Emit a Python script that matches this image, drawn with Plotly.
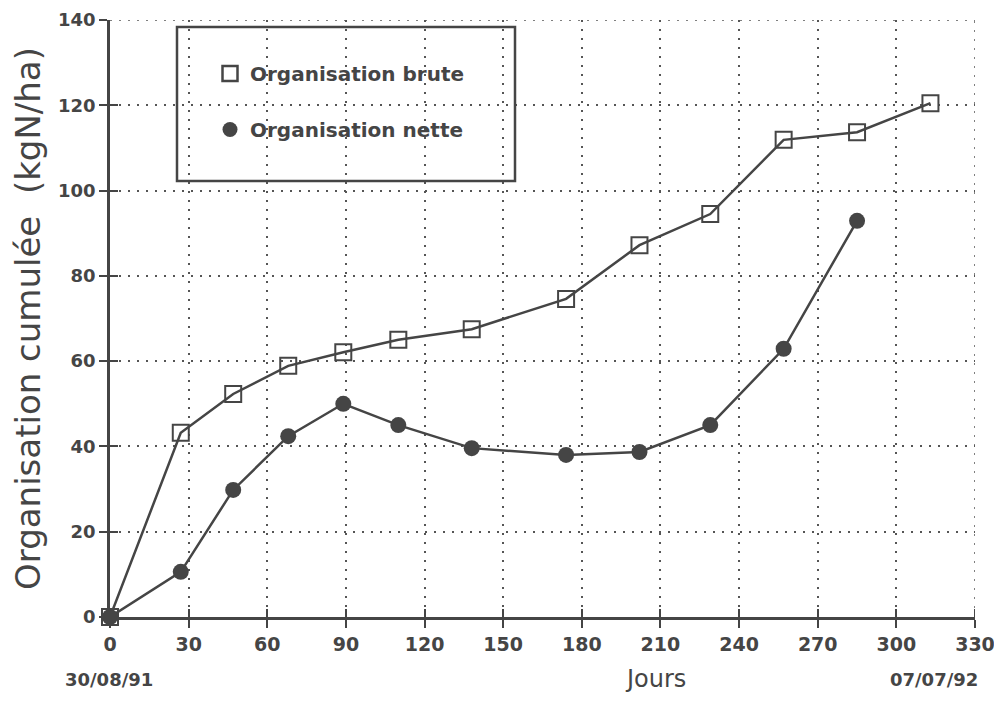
import plotly.graph_objects as go

days_brute = [0, 27, 47, 68, 89, 110, 138, 174, 202, 229, 257, 285, 313]
org_brute = [0, 43.2, 52.3, 58.9, 62.1, 65.0, 67.5, 74.6, 87.2, 94.5, 111.9, 113.7, 120.5]

days_nette = [0, 27, 47, 68, 89, 110, 138, 174, 202, 229, 257, 285]
org_nette = [0, 10.6, 29.8, 42.4, 50.0, 45.0, 39.6, 38.0, 38.7, 45.0, 62.9, 92.9]

x_ticks = list(range(0, 331, 30))
y_ticks = list(range(0, 141, 20))
x_max, y_max = 330, 140

ink = "#454545"
font_family = "DejaVu Sans"

# page coordinates of the plot area (page has an 8px body margin)
OFF = 8
L, R, T, B = 110, 975, 20, 617
W, H = R - L, B - T
FIG_W, FIG_H = 1002 - 2 * OFF, 704 - 2 * OFF

fig = go.Figure()
fig.add_trace(go.Scatter(
    x=days_brute, y=org_brute, mode="lines+markers", name="Organisation brute",
    line=dict(color=ink, width=2.5),
    marker=dict(symbol="square-open", size=16, color=ink, line=dict(width=2, color=ink)),
    cliponaxis=False, showlegend=False,
))
fig.add_trace(go.Scatter(
    x=days_nette, y=org_nette, mode="lines+markers", name="Organisation nette",
    line=dict(color=ink, width=2.5),
    marker=dict(symbol="circle", size=16, color=ink),
    cliponaxis=False, showlegend=False,
))
# legend entries (marker only, as in the original)
fig.add_trace(go.Scatter(
    x=[None], y=[None], mode="markers", name="Organisation brute",
    marker=dict(symbol="square-open", size=15, color=ink, line=dict(width=2.5, color=ink)),
    legendgroup="a",
))
fig.add_trace(go.Scatter(
    x=[None], y=[None], mode="markers", name="Organisation nette",
    marker=dict(symbol="circle", size=15, color=ink),
    legendgroup="b",
))
# inner tick marks
fig.add_trace(go.Scatter(x=[None], y=[None], xaxis="x2", yaxis="y2", showlegend=False))

grid = dict(color="#555", width=1.5, dash="2px,7px")

fig.update_layout(
    width=FIG_W, height=FIG_H,
    margin=dict(l=L - OFF, r=FIG_W - (R - OFF), t=T - OFF, b=FIG_H - (B - OFF)),
    paper_bgcolor="white", plot_bgcolor="white",
    font=dict(family=font_family, color=ink, size=16),
    showlegend=True,
    legend=dict(
        x=(210 - L) / W, y=(B - 54) / H, xanchor="left", yanchor="top",
        bgcolor="rgba(0,0,0,0)", borderwidth=0,
        font=dict(size=20, weight="bold", family=font_family, color=ink),
        tracegroupgap=27, itemwidth=30,
    ),
    xaxis=dict(
        range=[0, x_max], tickvals=x_ticks, ticktext=[str(v) for v in x_ticks],
        showgrid=True, gridcolor=grid["color"], gridwidth=grid["width"], griddash=grid["dash"],
        showline=True, linecolor=ink, linewidth=2.5,
        ticks="outside", ticklen=8, tickwidth=2, tickcolor=ink,
        tickfont=dict(size=19, family=font_family, color=ink, weight="bold"),
        ticklabeloverflow="allow",
        automargin=False, zeroline=False,
    ),
    yaxis=dict(
        range=[0, y_max], tickvals=y_ticks,
        showgrid=True, gridcolor=grid["color"], gridwidth=grid["width"], griddash=grid["dash"],
        showline=True, linecolor=ink, linewidth=2.5,
        ticks="outside", ticklen=8, tickwidth=2, tickcolor=ink,
        tickfont=dict(size=18, family=font_family, color=ink, weight="bold"),
        ticklabeloverflow="allow",
        automargin=False,
        title=dict(text="Organisation cumulée\u00a0\u00a0(kgN/ha)",
                   font=dict(size=34, family=font_family, color=ink), standoff=10),
        zeroline=False,
    ),
    xaxis2=dict(
        range=[0, x_max], tickvals=x_ticks, overlaying="x", anchor="y",
        showgrid=False, showline=False, zeroline=False, showticklabels=False,
        ticks="inside", ticklen=8, tickwidth=2, tickcolor=ink,
    ),
    yaxis2=dict(
        range=[0, y_max], tickvals=y_ticks, overlaying="y", anchor="x",
        showgrid=False, showline=False, zeroline=False, showticklabels=False,
        ticks="inside", ticklen=8, tickwidth=2, tickcolor=ink,
    ),
    shapes=[
        dict(type="rect", xref="paper", yref="paper",
             x0=(177 - L) / W, x1=(515 - L) / W,
             y0=(B - 181) / H, y1=(B - 27) / H,
             line=dict(color=ink, width=2.5), fillcolor="rgba(0,0,0,0)"),
        # dotted grid lines on the top and right edges
        dict(type="line", xref="x", yref="y", x0=0, x1=x_max, y0=y_max, y1=y_max,
             line=grid),
        dict(type="line", xref="x", yref="y", x0=x_max, x1=x_max, y0=0, y1=y_max,
             line=grid),
        # crossing tick mark on the right end of the x axis
        dict(type="line", xref="x", yref="paper", x0=x_max, x1=x_max,
             y0=-8 / H, y1=8 / H, line=dict(color=ink, width=2)),
    ],
    annotations=[
        dict(text="30/08/91", xref="paper", yref="paper", x=(109 - L) / W, y=(B - 680) / H,
             xanchor="center", yanchor="middle",
             showarrow=False, font=dict(size=18, weight="bold", family=font_family, color=ink)),
        dict(text="07/07/92", xref="paper", yref="paper", x=(934 - L) / W, y=(B - 679) / H,
             xanchor="center", yanchor="middle",
             showarrow=False, font=dict(size=18, weight="bold", family=font_family, color=ink)),
        dict(text="Jours", xref="paper", yref="paper", x=(655 - L) / W, y=(B - 679) / H,
             xanchor="center", yanchor="middle", borderpad=0,
             showarrow=False, font=dict(size=24, family=font_family, color=ink)),
    ],
)

fig.write_html("out.html")
